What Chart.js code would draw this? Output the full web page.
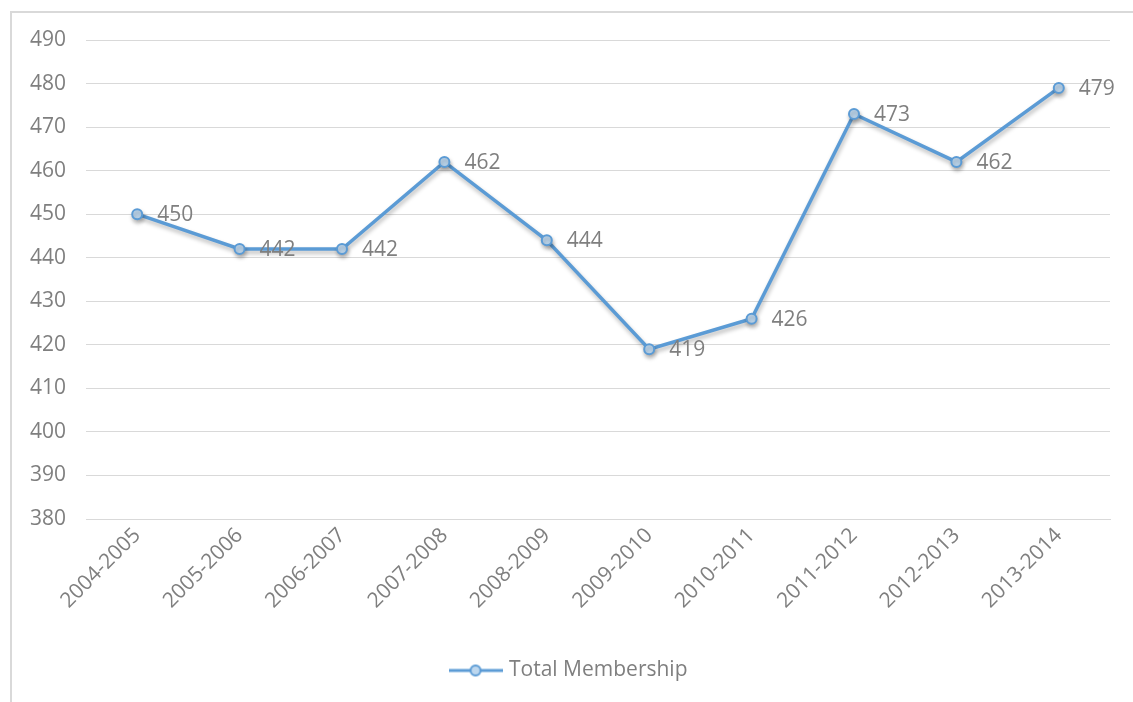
<!DOCTYPE html>
<html>
<head>
<meta charset="utf-8">
<script src="https://cdn.jsdelivr.net/npm/chart.js@4.4.1/dist/chart.umd.min.js"></script>
<style>
  html, body { margin: 0; padding: 0; background: #fff; }
  #frame {
    position: absolute; left: 10px; top: 11px; width: 1200px; height: 800px;
    border-left: 2px solid #d9d9d9; border-top: 2px solid #d9d9d9;
  }
  #wrap { position: absolute; left: 0; top: 0; width: 1133px; height: 702px; }
</style>
</head>
<body>
<div id="frame"></div>
<div id="wrap"><canvas id="membChart"></canvas></div>
<script>
// data
const seasons = ['2004-2005', '2005-2006', '2006-2007', '2007-2008', '2008-2009',
                 '2009-2010', '2010-2011', '2011-2012', '2012-2013', '2013-2014'];
const membership = [450, 442, 442, 462, 444, 419, 426, 473, 462, 479];
const yMin = 380;
const yMax = 490;
const yStep = 10;
const seriesName = 'Total Membership';

const blue = '#5B9BD5';
const markerFill = '#BDD7EE';
const grey = '#7f7f7f';
const fontFam = "'Open Sans', 'Liberation Sans', sans-serif";

// legend symbol: line with a circle in the middle
const legendIcon = document.createElement('canvas');
legendIcon.width = 54;
legendIcon.height = 14;
let lc = legendIcon.getContext('2d');
lc.strokeStyle = blue;
lc.lineWidth = 3;
lc.beginPath();
lc.moveTo(0, 7);
lc.lineTo(54, 7);
lc.stroke();
lc.beginPath();
lc.arc(27, 7, 5, 0, Math.PI * 2);
lc.fillStyle = markerFill;
lc.fill();
lc.lineWidth = 2;
lc.stroke();

// soft shadow under the line like the original
const shadowPlugin = {
  id: 'shadow',
  beforeDatasetDraw(chart) {
    const ctx = chart.ctx;
    ctx.save();
    ctx.shadowColor = 'rgba(0,0,0,0.28)';
    ctx.shadowBlur = 4;
    ctx.shadowOffsetX = 1;
    ctx.shadowOffsetY = 3;
  },
  afterDatasetDraw(chart) {
    chart.ctx.restore();
  }
};

// value labels to the right of each point
const valueLabels = {
  id: 'valueLabels',
  afterDatasetsDraw(chart) {
    const ctx = chart.ctx;
    const meta = chart.getDatasetMeta(0);
    ctx.save();
    ctx.font = '21px ' + fontFam;
    ctx.fillStyle = grey;
    ctx.textAlign = 'left';
    ctx.textBaseline = 'middle';
    meta.data.forEach((pt, i) => {
      ctx.fillText(String(membership[i]), pt.x + 20, pt.y + 1);
    });
    ctx.restore();
  }
};

const ctx = document.getElementById('membChart');

new Chart(ctx, {
  type: 'line',
  data: {
    labels: seasons,
    datasets: [{
      label: seriesName,
      data: membership,
      borderColor: blue,
      borderWidth: 3.5,
      backgroundColor: markerFill,
      pointBackgroundColor: markerFill,
      pointBorderColor: blue,
      pointBorderWidth: 2,
      pointRadius: 5,
      tension: 0
    }]
  },
  options: {
    responsive: true,
    maintainAspectRatio: false,
    animation: false,
    layout: { padding: { left: 30, right: 23, top: 40, bottom: 11 } },
    plugins: {
      tooltip: { enabled: false },
      legend: {
        position: 'bottom',
        labels: {
          color: grey,
          font: { family: fontFam, size: 21 },
          usePointStyle: true,
          pointStyleWidth: 46,
          padding: 10,
          generateLabels(chart) {
            return [{
              text: seriesName,
              fontColor: grey,
              pointStyle: legendIcon,
              hidden: false,
              datasetIndex: 0,
              lineWidth: 0
            }];
          }
        }
      }
    },
    scales: {
      x: {
        offset: true,
        grid: { display: false, drawTicks: false },
        border: { display: true, color: '#d9d9d9', width: 1 },
        ticks: {
          color: grey,
          font: { family: fontFam, size: 21 },
          maxRotation: 45,
          minRotation: 45,
          padding: 4,
          autoSkip: false
        },
        afterFit(scale) {
          scale.paddingLeft = 0;
          scale.paddingRight = 0;
          scale.height = 131;
        }
      },
      y: {
        min: yMin,
        max: yMax,
        grid: { color: '#d9d9d9', lineWidth: 1, drawTicks: false },
        border: { display: false },
        ticks: {
          stepSize: yStep,
          color: grey,
          font: { family: fontFam, size: 21 },
          padding: 20
        },
        afterFit(scale) {
          scale.width = 56;
          scale.paddingTop = 0;
          scale.paddingBottom = 0;
        }
      }
    }
  },
  plugins: [shadowPlugin, valueLabels]
});
</script>
</body>
</html>
